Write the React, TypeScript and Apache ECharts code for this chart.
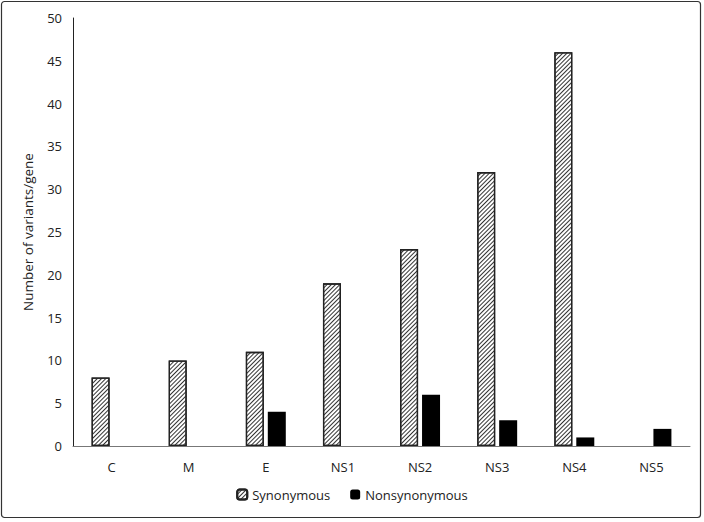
import React, { useEffect, useRef } from "react";
import * as echarts from "echarts";

const categories = ["C", "M", "E", "NS1", "NS2", "NS3", "NS4", "NS5"];
const synonymous = [8, 10, 11, 19, 23, 32, 46, 0];
const nonsynonymous = [0, 0, 4, 0, 6, 3, 1, 2];
const yTicks = [0, 5, 10, 15, 20, 25, 30, 35, 40, 45, 50];

const noZero = (arr: number[]) => arr.map((v) => (v === 0 ? null : v));

export default function App() {
  const ref = useRef<HTMLDivElement>(null);
  useEffect(() => {
    document.body.style.margin = "0";
    const chart = echarts.init(ref.current!, null, { renderer: "svg" });
    const font = "'Open Sans', 'Noto Sans', sans-serif";
    chart.setOption({
      animation: false,
      backgroundColor: "#fff",
      textStyle: { fontFamily: font },
      graphic: [
        {
          type: "rect",
          shape: { x: 1.5, y: 1.5, width: 699, height: 516, r: 3 },
          style: { fill: "none", stroke: "#333", lineWidth: 1.2 },
          silent: true,
        },
      ],
      grid: { left: 73, right: 14, top: 18, bottom: 76 },
      legend: {
        bottom: 16,
        left: "center",
        itemWidth: 10,
        itemHeight: 10,
        itemGap: 20,
        textStyle: { fontSize: 13, color: "#222", fontFamily: font },
        data: ["Synonymous", "Nonsynonymous"],
      },
      xAxis: {
        type: "category",
        data: categories,
        axisTick: { show: false },
        axisLine: { lineStyle: { color: "#777", width: 1 } },
        axisLabel: { fontSize: 13, color: "#222", margin: 14, fontFamily: font },
      },
      yAxis: {
        type: "value",
        min: yTicks[0],
        max: yTicks[yTicks.length - 1],
        interval: 5,
        name: "Number of variants/gene",
        nameLocation: "middle",
        nameGap: 38,
        nameTextStyle: { fontSize: 13.5, color: "#222", fontFamily: font },
        axisLine: { show: true, lineStyle: { color: "#222", width: 1 } },
        axisTick: { show: false },
        splitLine: { show: false },
        axisLabel: { fontSize: 13, color: "#222", margin: 11, fontFamily: font },
      },
      series: [
        {
          name: "Synonymous",
          type: "bar",
          data: noZero(synonymous),
          barWidth: 18,
          barGap: "22%",
          itemStyle: {
            color: "#fff",
            borderColor: "#222",
            borderWidth: 1.3,
            decal: {
              symbol: "rect",
              symbolSize: 1,
              color: "#333",
              backgroundColor: "#fff",
              dashArrayX: [1, 0],
              dashArrayY: [1, 2],
              rotation: -Math.PI / 4,
            },
          },
        },
        {
          name: "Nonsynonymous",
          type: "bar",
          data: noZero(nonsynonymous),
          barWidth: 18,
          itemStyle: { color: "#000" },
        },
      ],
    });
    return () => chart.dispose();
  }, []);
  return <div ref={ref} style={{ width: 704, height: 522 }} />;
}
